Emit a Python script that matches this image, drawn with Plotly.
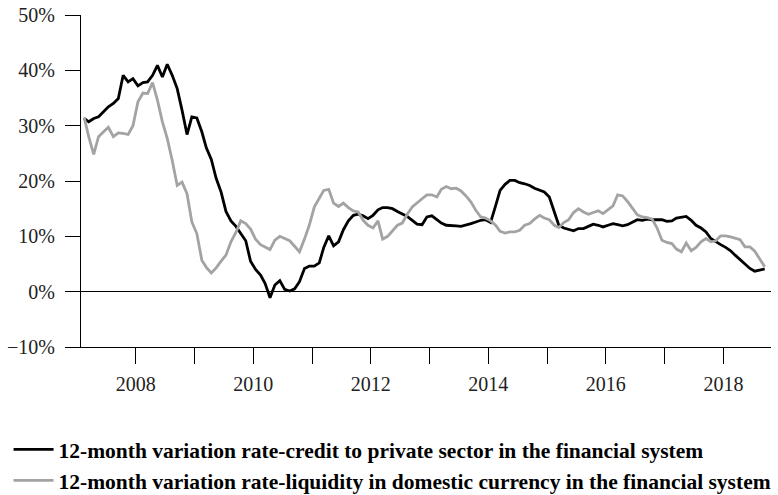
import pandas as pd
import plotly.graph_objects as go

# monthly observations, Feb 2007 .. Sep 2018 (percent)
start_month = "2007-02-01"

credit_private = [
    31.3, 30.7, 31.3, 31.6, 32.5, 33.4, 34.0, 34.9, 39.1, 37.9,
    38.5, 37.2, 37.8, 37.9, 39.1, 40.9, 38.8, 41.1, 39.1, 36.7,
    32.8, 28.4, 31.6, 31.4, 28.9, 26.0, 23.9, 20.5, 18.0, 14.5,
    12.8, 11.8, 10.5, 9.2, 5.5, 4.0, 3.0, 1.5, -1.1, 1.2,
    2.0, 0.4, 0.1, 0.5, 1.8, 4.2, 4.6, 4.6, 5.2, 8.0,
    10.1, 8.3, 9.0, 11.2, 12.8, 13.8, 14.0, 13.7, 13.2, 13.8,
    14.8, 15.2, 15.2, 15.0, 14.5, 14.1, 13.6, 12.9, 12.2, 12.1,
    13.5, 13.7, 13.1, 12.4, 12.0, 12.0, 11.9, 11.8, 12.0, 12.3,
    12.6, 12.9, 13.0, 12.5, 15.5, 18.3, 19.4, 20.1, 20.1, 19.7,
    19.5, 19.2, 18.7, 18.4, 18.0, 17.1, 14.5, 12.0, 11.5, 11.2,
    11.0, 11.4, 11.4, 11.8, 12.2, 12.0, 11.7, 12.0, 12.3, 12.1,
    11.9, 12.1, 12.5, 13.0, 12.9, 13.1, 13.0, 13.0, 13.0, 12.7,
    12.8, 13.3, 13.5, 13.6, 12.9, 12.0, 11.5, 10.8, 9.6, 9.0,
    8.5, 8.0, 7.4, 6.6, 5.8, 5.0, 4.2, 3.7, 3.9, 4.1,
]

liquidity_domestic = [
    31.5, 28.0, 24.8, 28.0, 28.9, 29.7, 28.0, 28.7, 28.6, 28.4,
    30.0, 34.3, 35.9, 35.8, 37.8, 34.6, 30.7, 27.7, 23.7, 19.2,
    19.8, 17.7, 12.6, 10.5, 5.7, 4.4, 3.4, 4.3, 5.5, 6.6,
    9.0, 10.7, 12.8, 12.3, 11.3, 9.5, 8.5, 8.0, 7.6, 9.3,
    10.0, 9.6, 9.2, 8.2, 7.2, 9.5, 12.0, 15.3, 16.8, 18.3,
    18.5, 16.0, 15.4, 16.0, 15.2, 14.6, 14.4, 12.9, 12.0, 11.5,
    12.8, 9.5, 10.0, 11.0, 12.0, 12.4, 14.0, 15.3, 16.1, 16.8,
    17.5, 17.5, 17.1, 18.5, 19.0, 18.6, 18.7, 18.2, 17.3, 16.2,
    14.7, 13.5, 13.3, 12.8, 12.0, 10.9, 10.6, 10.8, 10.8, 11.1,
    12.0, 12.3, 13.1, 13.8, 13.3, 13.0, 12.0, 11.6, 12.5, 13.0,
    14.3, 15.0, 14.4, 14.0, 14.3, 14.6, 14.1, 14.8, 15.5, 17.5,
    17.3, 16.3, 15.0, 13.9, 13.5, 13.4, 13.1, 11.5, 9.3, 8.9,
    8.7, 7.7, 7.2, 8.8, 7.4, 8.0, 9.0, 9.6, 9.0, 9.2,
    10.1, 10.1, 9.9, 9.7, 9.4, 8.1, 8.1, 7.3, 6.0, 4.5,
]

year_ticks = list(range(2007, 2019))
series_names = [
    "12-month variation rate-credit to private sector in the financial system",
    "12-month variation rate-liquidity in domestic currency in the financial system",
]

dates = pd.date_range(start_month, periods=len(credit_private), freq="MS") + pd.Timedelta(days=14)

FONT = "Liberation Serif"

fig = go.Figure()
fig.add_trace(go.Scatter(x=dates, y=credit_private, mode="lines", name=series_names[0],
                         line=dict(color="#000000", width=2.8), legend="legend"))
fig.add_trace(go.Scatter(x=dates, y=liquidity_domestic, mode="lines", name=series_names[1],
                         line=dict(color="#a3a3a3", width=2.8), legend="legend2"))

legend_style = dict(xanchor="left", yanchor="middle", x=-0.105,
                    font=dict(family=FONT, size=21.5, color="#000000", weight="bold"),
                    bgcolor="rgba(0,0,0,0)", itemwidth=40)

fig.update_layout(
    width=778, height=495,
    # fixed plot box: the legends below must not push the margins
    margin=dict(l=81, r=7, t=15, b=148, autoexpand=False),
    paper_bgcolor="white", plot_bgcolor="white",
    font=dict(family=FONT, size=20, color="#222222"),
    showlegend=True,
    legend=dict(y=-0.3084, **legend_style),
    legend2=dict(y=-0.4019, **legend_style),
    xaxis=dict(
        range=["2007-01-26", "2018-10-24"],
        tickvals=[f"{y}-01-01" for y in year_ticks],
        ticktext=[str(y) if y % 2 == 0 else "" for y in year_ticks],
        ticks="outside", ticklen=16, tickwidth=1, tickcolor="#000000",
        showline=True, linecolor="#000000", linewidth=1,
        showgrid=False, zeroline=False, ticklabelstandoff=3, automargin=False,
        ticklabeloverflow="allow",
    ),
    yaxis=dict(
        range=[-10, 50], dtick=10, ticksuffix="%",
        ticks="outside", ticklen=15, tickwidth=1, tickcolor="#000000",
        showline=True, linecolor="#000000", linewidth=1,
        showgrid=False, zeroline=True, zerolinecolor="#000000", zerolinewidth=1,
        ticklabelstandoff=6, automargin=False, ticklabeloverflow="allow",
    ),
)

# drop the page's default 8px body margin so the figure fills the window exactly
fig.write_html("out.html", config={"displayModeBar": False},
               post_script="document.body.style.margin = '0';")
